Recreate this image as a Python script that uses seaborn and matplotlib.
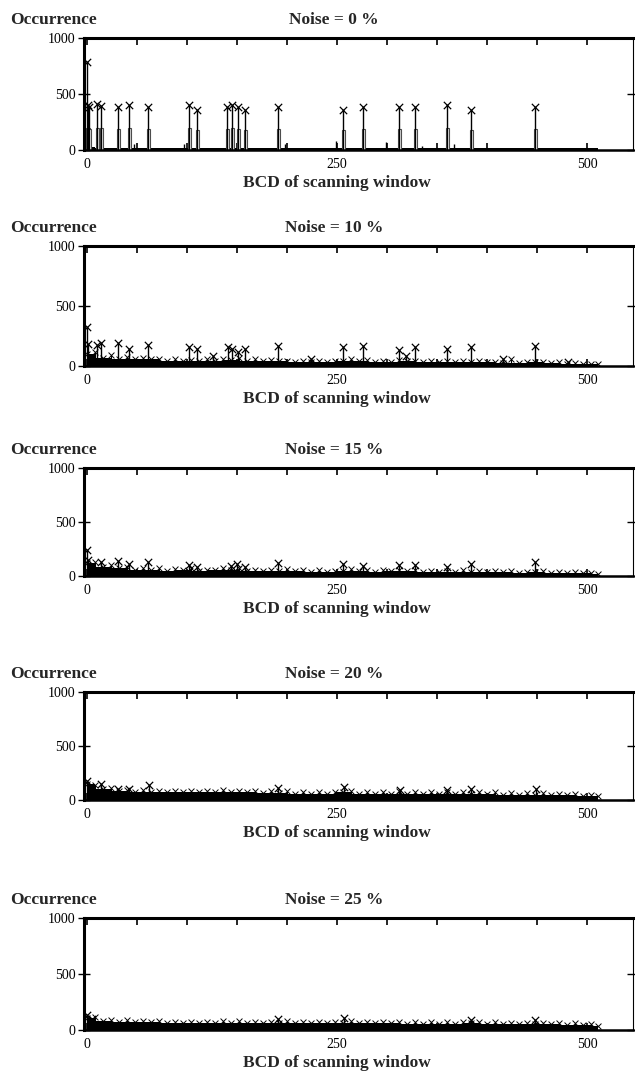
import matplotlib
matplotlib.use('Agg')
import matplotlib.pyplot as plt
import seaborn as sns

# BCD grid used for the noise floor envelope (9 bit window -> 0..511)
floor_bcd = [0, 16, 32, 48, 64, 80, 96, 112, 128, 144, 160, 176, 192, 208, 224, 240, 256,
             272, 288, 304, 320, 336, 352, 368, 384, 400, 416, 432, 448, 464, 480, 496, 511]
# in-between BCD values where small scattered counts show up
clutter_bcd = [8, 24, 40, 56, 72, 88, 104, 120, 136, 152, 168, 184, 200, 216, 232, 248,
               264, 280, 296, 312, 328, 344, 360, 376, 392, 408, 424, 440, 456, 472, 488, 504]

# Noise = 0 %
peak_bcd_0 = [0, 1, 2, 10, 14, 31, 42, 61, 102, 110, 140, 145, 151, 158, 191, 256, 276, 312, 328, 360, 384, 448]
peak_occ_0 = [790, 400, 380, 410, 390, 385, 400, 385, 400, 360, 385, 405, 385, 360, 385, 360, 380, 385, 380, 405, 360, 380]
box_occ_0 = [200, 200, 190, 200, 200, 190, 200, 190, 200, 180, 190, 200, 190, 180, 190, 180, 190, 190, 190, 200, 180, 190]
small_bcd_0 = [47, 97, 198, 249, 299, 335, 367]
small_occ_0 = [55, 50, 50, 80, 70, 40, 50]
floor_0 = [30, 22, 20, 20, 22, 20, 20, 22, 20, 20, 22, 20, 20, 20, 20, 20, 22,
           20, 20, 20, 20, 20, 20, 20, 20, 20, 18, 18, 18, 18, 18, 18, 18]

# Noise = 10 %
peak_bcd_10 = [0, 1, 10, 14, 31, 42, 61, 102, 110, 126, 141, 145, 151, 158, 191, 224, 256, 276, 312, 319, 328, 360, 384, 416, 448, 481]
peak_occ_10 = [325, 180, 175, 195, 195, 145, 175, 160, 140, 80, 160, 140, 120, 140, 170, 55, 155, 170, 135, 80, 155, 140, 155, 55, 170, 30]
floor_10 = [100, 70, 60, 55, 55, 45, 45, 40, 45, 50, 45, 40, 40, 35, 35, 35, 45,
            40, 35, 35, 40, 35, 30, 30, 35, 30, 25, 25, 30, 25, 20, 20, 15]
clutter_10 = [120, 90, 75, 70, 60, 55, 50, 60, 55, 70, 55, 50, 45, 45, 40, 45,
              60, 50, 45, 50, 45, 40, 40, 45, 40, 35, 55, 35, 30, 30, 25, 20]

# Noise = 15 %
peak_bcd_15 = [0, 1, 14, 31, 42, 61, 102, 110, 144, 150, 158, 191, 256, 276, 312, 328, 360, 384, 448]
peak_occ_15 = [240, 145, 130, 140, 110, 130, 100, 85, 95, 110, 85, 120, 115, 90, 100, 100, 80, 115, 130]
floor_15 = [120, 80, 70, 60, 60, 50, 55, 50, 55, 60, 50, 45, 50, 45, 40, 40, 50,
            45, 40, 45, 45, 40, 40, 40, 40, 35, 35, 30, 35, 30, 25, 25, 20]
clutter_15 = [130, 100, 85, 75, 70, 65, 70, 60, 70, 75, 60, 60, 65, 55, 55, 50,
              65, 55, 55, 60, 55, 50, 50, 55, 50, 45, 45, 40, 45, 40, 35, 30]

# Noise = 20 %
peak_bcd_20 = [0, 14, 31, 42, 62, 191, 257, 313, 360, 384, 449]
peak_occ_20 = [180, 150, 105, 100, 135, 115, 120, 90, 90, 100, 105]
floor_20 = [150, 100, 80, 75, 75, 70, 70, 70, 75, 70, 70, 65, 65, 60, 60, 60, 70,
            60, 60, 60, 60, 55, 55, 55, 55, 55, 50, 50, 50, 45, 45, 40, 35]
clutter_20 = [140, 110, 95, 90, 85, 85, 85, 80, 90, 85, 85, 80, 80, 75, 75, 75,
              85, 75, 75, 80, 75, 70, 70, 75, 70, 70, 65, 65, 65, 60, 55, 50]

# Noise = 25 %
peak_bcd_25 = [0, 5, 191, 257, 384, 448]
peak_occ_25 = [130, 100, 95, 105, 90, 85]
floor_25 = [110, 80, 75, 70, 70, 65, 65, 60, 65, 65, 65, 60, 65, 60, 60, 60, 65,
            60, 60, 60, 55, 55, 55, 55, 60, 55, 50, 50, 55, 50, 45, 45, 40]
clutter_25 = [115, 90, 85, 80, 80, 75, 75, 75, 80, 80, 75, 75, 80, 75, 75, 75,
              80, 75, 75, 75, 70, 70, 70, 70, 75, 70, 65, 65, 65, 60, 60, 55]

noise_labels = ['Noise = 0 %', 'Noise = 10 %', 'Noise = 15 %', 'Noise = 20 %', 'Noise = 25 %']
peaks_bcd = [peak_bcd_0, peak_bcd_10, peak_bcd_15, peak_bcd_20, peak_bcd_25]
peaks_occ = [peak_occ_0, peak_occ_10, peak_occ_15, peak_occ_20, peak_occ_25]
floors = [floor_0, floor_10, floor_15, floor_20, floor_25]
clutters = [None, clutter_10, clutter_15, clutter_20, clutter_25]

sns.set_style('ticks')
plt.rcParams['font.family'] = ['Liberation Serif', 'DejaVu Serif']

W, H = 635, 1072
fig = plt.figure(figsize=(W / 100, H / 100), dpi=100)

# panel boxes in pixels (top, bottom)
tops = [38, 246, 468, 692, 918]
bottoms = [150, 366, 576, 800, 1030]
left_px, right_px = 84, 633

for i in range(5):
    h = bottoms[i] - tops[i]
    ax = fig.add_axes([left_px / W, 1 - bottoms[i] / H, (right_px - left_px) / W, h / H])

    # dense low-count floor
    ax.fill_between(floor_bcd, 0, floors[i], color='black', linewidth=0, step='mid')
    if clutters[i] is not None:
        ax.vlines(clutter_bcd, 0, clutters[i], color='black', linewidth=0.8)
        sns.scatterplot(x=clutter_bcd, y=clutters[i], marker='x', color='black', s=18,
                        linewidth=0.7, ax=ax, zorder=3)
        sns.scatterplot(x=floor_bcd, y=floors[i], marker='x', color='black', s=18,
                        linewidth=0.7, ax=ax, zorder=3)

    if i == 0:
        ax.bar(peak_bcd_0, box_occ_0, width=3, facecolor='white', edgecolor='0.3',
               linewidth=0.8, zorder=1)
        ax.vlines(small_bcd_0, 0, small_occ_0, color='black', linewidth=1.0)

    # peaks: stems + x markers
    ax.vlines(peaks_bcd[i], 0, peaks_occ[i], color='black', linewidth=1.0, zorder=2)
    sns.scatterplot(x=peaks_bcd[i], y=peaks_occ[i], marker='x', color='black', s=28,
                    linewidth=0.9, ax=ax, zorder=4)

    ax.set_xlim(-3, 546)
    ax.set_ylim(0, 1000)

    ax.set_xticks(list(range(0, 501, 50)))
    ax.set_xticklabels(['0', '', '', '', '', '250', '', '', '', '', '500'])
    ax.set_yticks([0, 500, 1000])
    ax.set_yticklabels(['0', '500', '1000'])
    ax.tick_params(axis='x', direction='in', top=True, length=5, width=1.2,
                   labelsize=10, pad=6, colors='black')
    ax.tick_params(axis='y', direction='inout', right=True, length=8, width=1.0,
                   labelsize=10, pad=2, colors='black')

    for side in ['left', 'top']:
        ax.spines[side].set_linewidth(2.2)
    ax.spines['bottom'].set_linewidth(1.8)
    ax.spines['right'].set_linewidth(0.8)
    for sp in ax.spines.values():
        sp.set_color('black')

    ax.set_xlabel('')
    ax.set_ylabel('')
    # labels placed in pixel offsets from the box
    ax.text(-0.135, 1 + 18 / h, 'Occurrence', transform=ax.transAxes, ha='left', va='center',
            fontsize=12.5, fontweight='bold')
    ax.text(0.455, 1 + 18 / h, noise_labels[i], transform=ax.transAxes, ha='center', va='center',
            fontsize=12.5, fontweight='bold')
    ax.text(0.46, -33 / h, 'BCD of scanning window', transform=ax.transAxes, ha='center',
            va='center', fontsize=12.5, fontweight='bold')

fig.savefig('out.png', dpi=100)
